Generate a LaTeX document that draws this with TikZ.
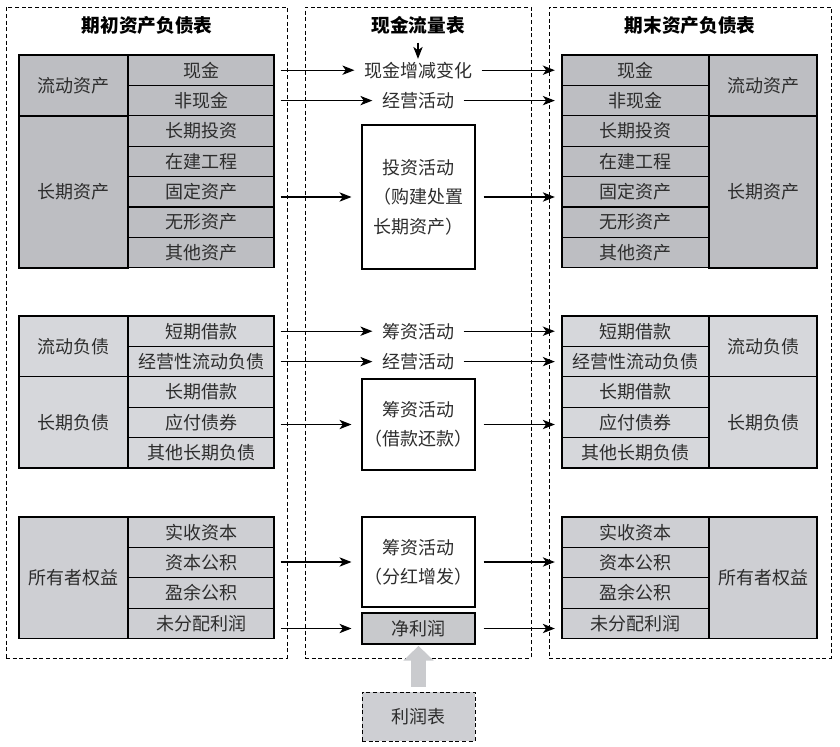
\documentclass[tikz,border=0pt]{standalone}
\usepackage{fontspec}
\setmainfont{Noto Sans CJK SC}
\usetikzlibrary{arrows.meta}
\definecolor{gA}{RGB}{189,190,194}
\definecolor{gB}{RGB}{214,215,219}
\definecolor{gC}{RGB}{206,207,211}
\definecolor{gN}{RGB}{200,201,204}
\definecolor{gArrow}{RGB}{202,203,206}
\definecolor{txt}{RGB}{45,45,45}
\tikzset{
  cell/.style={draw=black, line width=0.8pt, inner sep=0pt, text=txt,
    font=\fontsize{13.5}{16}\selectfont, minimum width=109.5pt, minimum height=22.8pt},
  grp/.style={cell, minimum width=81.75pt},
  frame/.style={draw=black, dashed, dash pattern=on 3pt off 2pt, line width=0.6pt, inner sep=0pt},
  ttl/.style={font=\fontsize{14}{16}\selectfont\bfseries, text=black},
  mtext/.style={font=\fontsize{13.5}{16}\selectfont, text=txt, inner xsep=7pt, inner ysep=2pt},
  mbox/.style={draw=black, line width=0.8pt, inner sep=0pt, text=txt, align=center,
    font=\fontsize{13.5}{22}\selectfont, minimum width=84.75pt},
  arr/.style={-{Stealth[length=9pt,width=7pt,inset=2.5pt]}, line width=0.8pt, black},
}
\begin{document}
\begin{tikzpicture}[x=0.75pt,y=-0.75pt]
\useasboundingbox (0,0) rectangle (840,747);
% frames
\node[frame, minimum width=210.75pt, minimum height=488.25pt] (fL) at (146.5,332.5) {};
\node[frame, minimum width=169.5pt, minimum height=488.25pt] (fM) at (418,332.5) {};
\node[frame, minimum width=211.5pt, minimum height=488.25pt] (fR) at (690,332.5) {};
\node[ttl] (tL) at (147,25) {期初资产负债表};
\node[ttl] (tM) at (418,25) {现金流量表};
\node[ttl] (tR) at (690,25) {期末资产负债表};

% ---------- left: assets
\node[grp, fill=gA, minimum height=45.6pt] (la1) at (73.5,85.4) {流动资产};
\node[grp, fill=gA, minimum height=114pt] (la2) at (73.5,192) {长期资产};
\node[cell, fill=gA] (li1) at (201,70.2) {现金};
\node[cell, fill=gA] (li2) at (201,100.6) {非现金};
\node[cell, fill=gA] (li3) at (201,131) {长期投资};
\node[cell, fill=gA] (li4) at (201,161.4) {在建工程};
\node[cell, fill=gA] (li5) at (201,191.8) {固定资产};
\node[cell, fill=gA] (li6) at (201,222.2) {无形资产};
\node[cell, fill=gA] (li7) at (201,252.6) {其他资产};
% left: liabilities
\node[grp, fill=gB, minimum height=45.6pt] (lb1) at (73.5,346.4) {流动负债};
\node[grp, fill=gB, minimum height=68.4pt] (lb2) at (73.5,422.4) {长期负债};
\node[cell, fill=gB] (lj1) at (201,331.2) {短期借款};
\node[cell, fill=gB] (lj2) at (201,361.6) {经营性流动负债};
\node[cell, fill=gB] (lj3) at (201,392) {长期借款};
\node[cell, fill=gB] (lj4) at (201,422.4) {应付债券};
\node[cell, fill=gB] (lj5) at (201,452.8) {其他长期负债};
% left: equity
\node[grp, fill=gC, minimum height=91.2pt] (lc) at (73.5,577.8) {所有者权益};
\node[cell, fill=gC] (lk1) at (201,532.2) {实收资本};
\node[cell, fill=gC] (lk2) at (201,562.6) {资本公积};
\node[cell, fill=gC] (lk3) at (201,593) {盈余公积};
\node[cell, fill=gC] (lk4) at (201,623.4) {未分配利润};

% ---------- right: assets
\node[grp, fill=gA, minimum width=81pt, minimum height=45.6pt] (ra1) at (763,85.4) {流动资产};
\node[grp, fill=gA, minimum width=81pt, minimum height=114pt] (ra2) at (763,192) {长期资产};
\node[cell, fill=gA, minimum width=110.25pt] (ri1) at (635.5,70.2) {现金};
\node[cell, fill=gA, minimum width=110.25pt] (ri2) at (635.5,100.6) {非现金};
\node[cell, fill=gA, minimum width=110.25pt] (ri3) at (635.5,131) {长期投资};
\node[cell, fill=gA, minimum width=110.25pt] (ri4) at (635.5,161.4) {在建工程};
\node[cell, fill=gA, minimum width=110.25pt] (ri5) at (635.5,191.8) {固定资产};
\node[cell, fill=gA, minimum width=110.25pt] (ri6) at (635.5,222.2) {无形资产};
\node[cell, fill=gA, minimum width=110.25pt] (ri7) at (635.5,252.6) {其他资产};
% right: liabilities
\node[grp, fill=gB, minimum width=81pt, minimum height=45.6pt] (rb1) at (763,346.4) {流动负债};
\node[grp, fill=gB, minimum width=81pt, minimum height=68.4pt] (rb2) at (763,422.4) {长期负债};
\node[cell, fill=gB, minimum width=110.25pt] (rj1) at (635.5,331.2) {短期借款};
\node[cell, fill=gB, minimum width=110.25pt] (rj2) at (635.5,361.6) {经营性流动负债};
\node[cell, fill=gB, minimum width=110.25pt] (rj3) at (635.5,392) {长期借款};
\node[cell, fill=gB, minimum width=110.25pt] (rj4) at (635.5,422.4) {应付债券};
\node[cell, fill=gB, minimum width=110.25pt] (rj5) at (635.5,452.8) {其他长期负债};
% right: equity
\node[grp, fill=gC, minimum width=81pt, minimum height=91.2pt] (rc) at (763,577.8) {所有者权益};
\node[cell, fill=gC, minimum width=110.25pt] (rk1) at (635.5,532.2) {实收资本};
\node[cell, fill=gC, minimum width=110.25pt] (rk2) at (635.5,562.6) {资本公积};
\node[cell, fill=gC, minimum width=110.25pt] (rk3) at (635.5,593) {盈余公积};
\node[cell, fill=gC, minimum width=110.25pt] (rk4) at (635.5,623.4) {未分配利润};

% ---------- middle
\node[mtext] (m1) at (418,70.2) {现金增减变化};
\node[mtext] (m2) at (418,100.6) {经营活动};
\node[mbox, minimum height=108pt] (m3) at (418.5,197) {投资活动\\（购建处置\\长期资产）};
\node[mtext] (m4) at (418,331.2) {筹资活动};
\node[mtext] (m5) at (418,361.6) {经营活动};
\node[mbox, minimum height=68.25pt] (m6) at (418.5,424.5) {筹资活动\\（借款还款）};
\node[mbox, minimum height=67.5pt] (m7) at (418.5,562) {筹资活动\\（分红增发）};
\node[mbox, fill=gN, minimum height=23.25pt, font=\fontsize{13.5}{16}\selectfont] (m8) at (418.5,628.5) {净利润};
\node[frame, fill=gC, text=txt, minimum width=84.75pt, minimum height=36.75pt,
  font=\fontsize{13.5}{16}\selectfont] (pl) at (418.5,716.5) {利润表};

% title arrow
\draw[arr, shorten <=3pt] (tM.south) -- (m1.north);

% simple text rows
\foreach \a/\m/\b in {li1/m1/ri1, li2/m2/ri2, lj1/m4/rj1, lj2/m5/rj2}{
  \draw[arr, shorten <=4.5pt] (\a.east) -- (\m.west);
  \draw[arr, shorten >=5pt] (\m.east) -- (\m.east -| \b.west);
}
% boxes
\foreach \a/\m/\b in {li5/m3/ri5, lj4/m6/rj4, lk2/m7/rk2, lk4/m8/rk4}{
  \draw[arr, shorten <=4.5pt, shorten >=7.5pt] (\a.east |- \m.west) -- (\m.west);
  \draw[arr, shorten <=6pt, shorten >=5pt] (\m.east) -- (\m.east -| \b.west);
}
% thick gray arrow from income statement to net profit
\draw[gArrow, line width=11.25pt, -{Triangle[length=11pt,width=22pt]},
  shorten <=3.75pt, shorten >=1pt] (pl.north) -- (m8.south);
\end{tikzpicture}
\end{document}
